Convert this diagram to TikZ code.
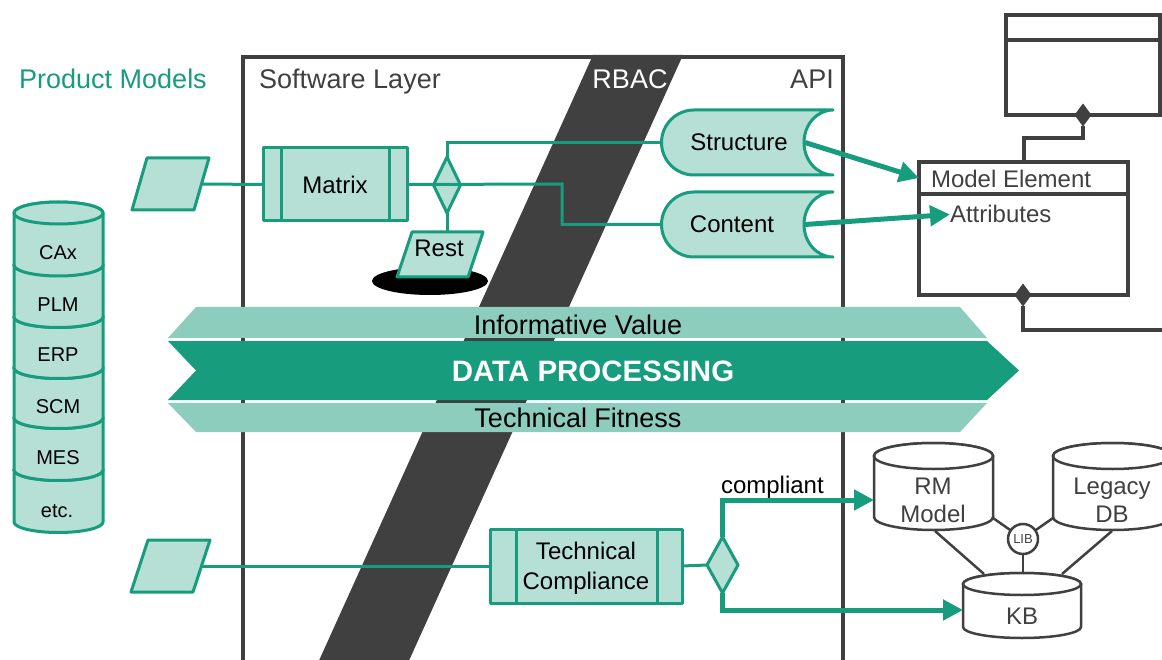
\documentclass[tikz,border=0pt]{standalone}
\usepackage{fontspec}
\setmainfont{Liberation Sans}
\usetikzlibrary{shapes.geometric,arrows.meta,calc}
\definecolor{fgreen}{HTML}{179C7D}
\definecolor{flight}{HTML}{B6E0D5}
\definecolor{fband}{HTML}{8CCDBE}
\definecolor{fgray}{HTML}{404040}

% cylinder: style, left x, right x, top-rim centre y, bottom-rim centre y, rim y-radius
\newcommand\dbcyl[6]{%
  \pgfmathsetmacro\cylrx{(#3-#2)/2}%
  \pgfmathsetmacro\cylcx{(#3+#2)/2}%
  \path[#1] (#2,#4) -- (#2,#5)
    arc[start angle=180,end angle=360,x radius=\cylrx pt,y radius=#6pt]
    -- (#3,#4)
    arc[start angle=0,end angle=180,x radius=\cylrx pt,y radius=#6pt] -- cycle;
  \path[#1] (\cylcx,#4) ellipse[x radius=\cylrx pt,y radius=#6pt];
}

\begin{document}
\begin{tikzpicture}[x=1pt,y=-1pt,
  every node/.style={inner sep=0pt,outer sep=0pt},
  head/.style={font=\fontsize{27}{30}\selectfont,anchor=base},
  lbl/.style={font=\fontsize{24}{28}\selectfont,align=center},
  stacklbl/.style={font=\fontsize{20}{24}\selectfont},
  gline/.style={draw=fgreen,line width=3pt},
  gshape/.style={fill=flight,draw=fgreen,line width=3pt,line join=round},
  procbox/.style={gshape,rectangle,font=\fontsize{24}{30}\selectfont,align=center},
  decision/.style={gshape,diamond,minimum width=27pt,minimum height=56pt},
  fatarrow/.style={draw=fgreen,line width=5pt,-{Triangle[length=20pt,width=20pt]}},
  uml/.style={draw=fgray,line width=4pt},
  umlbox/.style={uml,fill=white,rectangle},
  umldiam/.style={diamond,fill=fgray,minimum width=17pt,minimum height=23pt},
  store/.style={fill=white,draw=fgray,line width=2.5pt},
  sline/.style={draw=fgray,line width=2.5pt},
]
\useasboundingbox (0,0) rectangle (1162,660);
\fill[white] (0,0) rectangle (1162,660);

% ---------- software layer frame and RBAC strip ----------
\draw[uml] (243,665) -- (243,57) -- (843,57) -- (843,665);
\fill[fgray] (593,55) -- (683,55) -- (407,665) -- (317,665) -- cycle;

\node[head,text=fgreen] (pmtitle) at (113,89) {Product Models};
\node[head,text=fgray] (swtitle) at (350,89) {Software Layer};
\node[head,text=white] (rbactitle) at (630,89) {RBAC};
\node[head,text=fgray] (apititle) at (812,89) {API};

% ---------- product model stack ----------
\dbcyl{gshape}{14}{103}{470}{522}{10.5}
\dbcyl{gshape}{14}{103}{418}{470}{10.5}
\dbcyl{gshape}{14}{103}{368}{418}{10.5}
\dbcyl{gshape}{14}{103}{317}{368}{10.5}
\dbcyl{gshape}{14}{103}{265}{317}{10.5}
\dbcyl{gshape}{14}{103}{213}{265}{11}
\node[stacklbl] (cax) at (58,252.5) {CAx};
\node[stacklbl] (plm) at (58,304.5) {PLM};
\node[stacklbl] (erp) at (58,355) {ERP};
\node[stacklbl] (scm) at (58,406.5) {SCM};
\node[stacklbl] (mes) at (58,458) {MES};
\node[stacklbl,anchor=base] (etc) at (57,517.5) {etc.};

% ---------- upper flow: matrix, decision, outputs ----------
\path[gshape] (147,158) -- (209,158) -- (194,210) -- (132,210) -- cycle;
\coordinate (in1) at (201.5,184);

\node[procbox,minimum width=144pt,minimum height=73pt] (mat) at (335,184.5) {Matrix};
\draw[gline] ($(mat.north west)+(18,0)$) -- ($(mat.south west)+(18,0)$);
\draw[gline] ($(mat.north east)+(-18,0)$) -- ($(mat.south east)+(-18,0)$);

\node[decision] (dec1) at (447,185) {};

% Rest sink
\fill[black] (430,281) ellipse[x radius=58pt,y radius=14pt];
\path[gshape] (412,232) -- (483,232) -- (468,277) -- (397,277) -- cycle;
\node[lbl] (rest) at (439,248) {Rest};
\coordinate (resttop) at (447,232);

% Structure and Content stores
\path[gshape] (833,110) -- (694,110) arc[start angle=90,end angle=270,radius=32.5pt]
  -- (833,175) arc[start angle=270,end angle=90,x radius=29pt,y radius=32.5pt] -- cycle;
\node[lbl] (struct) at (739,142.5) {Structure};
\coordinate (structin) at (661,142.5);
\coordinate (structout) at (805,142.5);

\path[gshape] (833,192) -- (694,192) arc[start angle=90,end angle=270,radius=32.5pt]
  -- (833,257) arc[start angle=270,end angle=90,x radius=29pt,y radius=32.5pt] -- cycle;
\node[lbl] (content) at (732,224) {Content};
\coordinate (contentin) at (661,224.5);
\coordinate (contentout) at (805,224.5);

\coordinate (bend1) at (562,184);
\draw[gline] (in1) -- (mat.west);
\draw[gline,line join=miter] (mat.east) -- (bend1) |- (contentin);
\draw[gline,line join=miter] (dec1.north) |- (structin);
\draw[gline] (dec1.south) -- (resttop);

% ---------- model classes ----------
\node[umlbox,minimum width=154pt,minimum height=100pt,anchor=north west] (cls) at (1006,15) {};
\draw[uml] ($(cls.north west)+(0,25)$) -- ($(cls.north east)+(0,25)$);
\node[umlbox,minimum width=209pt,minimum height=32pt,anchor=north west] (mehead) at (919,162) {};
\node[umlbox,minimum width=209pt,minimum height=101pt,anchor=north west] (mebody) at (919,194) {};
\node[font=\fontsize{24}{28}\selectfont,text=fgray,anchor=base west] (metext) at (931,188) {Model Element};
\node[font=\fontsize{24}{28}\selectfont,text=fgray,anchor=base west] (attr) at (950,223) {Attributes};

\node[umldiam] (dtop) at (1083,115) {};
\node[umldiam] (dme) at (1023,295) {};
\coordinate (melink) at (1024,162);
\coordinate (umlout) at (1170,330);
\draw[uml,line join=miter] (dtop.south) -- ++(0,12) -| (melink);
\draw[uml,line join=miter] (dme.south) |- (umlout);

\draw[fatarrow] (structout) -- (mehead.west);
\draw[fatarrow] (contentout) -- (attr.west);

% ---------- data processing bands ----------
\fill[fband] (196,307) -- (960,307) -- (987,338) -- (168,338) -- cycle;
\fill[fgreen] (168,341) -- (987,341) -- (1019,370.5) -- (987,400) -- (168,400) -- (196,370.5) -- cycle;
\fill[fband] (168,403) -- (987,403) -- (960,432) -- (196,432) -- cycle;
\node[font=\fontsize{27}{30}\selectfont] (infoval) at (578,324.5) {Informative Value};
\node[font=\fontsize{29.5}{32}\selectfont\bfseries,text=white] (dataproc) at (593,371) {DATA PROCESSING};
\node[font=\fontsize{27}{30}\selectfont] (techfit) at (578,418) {Technical Fitness};

% ---------- lower flow: technical compliance ----------
\path[gshape] (148,540) -- (210,540) -- (193,592) -- (131,592) -- cycle;
\coordinate (in2) at (201.5,566);

\node[procbox,minimum width=192pt,minimum height=74pt] (tc) at (586,566) {};
\draw[gline] ($(tc.north west)+(26,0)$) -- ($(tc.south west)+(26,0)$);
\draw[gline] ($(tc.north east)+(-25,0)$) -- ($(tc.south east)+(-25,0)$);
\node[lbl,font=\fontsize{24}{30}\selectfont] (tctext) at (586,568) {Technical\\Compliance};

\node[decision,minimum width=31pt,minimum height=56pt] (dec2) at (722.5,565) {};

\draw[gline] (in2) -- (tc.west);
\draw[gline] (tc.east) -- (dec2.west);

% ---------- repositories ----------
\dbcyl{store}{874}{993}{456}{517}{13}
\dbcyl{store}{1053}{1172}{456}{517}{13}
\dbcyl{store}{963}{1081}{584}{627}{11}
\node[lbl,text=fgray] (rm) at (933,500.5) {RM\\Model};
\node[lbl,text=fgray] (legacy) at (1112,500) {Legacy\\DB};
\node[lbl,text=fgray] (kb) at (1022,616) {KB};
\coordinate (rmin) at (874,500);
\coordinate (kbin) at (963,610);

\node[circle,store,minimum size=30pt,font=\fontsize{13}{15}\selectfont,text=fgray] (lib) at (1023,539) {LIB};
\coordinate (rmright) at (993,518);
\coordinate (lgleft) at (1053,518);
\coordinate (rmbottom) at (935,531);
\coordinate (lgbottom) at (1112,531);
\coordinate (kbtop) at (1023,573);
\coordinate (kbtopl) at (984,574);
\coordinate (kbtopr) at (1062,574);
\draw[sline] (rmright) -- (lib);
\draw[sline] (lgleft) -- (lib);
\draw[sline] (lib) -- (kbtop);
\draw[sline] (rmbottom) -- (kbtopl);
\draw[sline] (lgbottom) -- (kbtopr);

\draw[fatarrow,line join=miter] (dec2.north) |- (rmin);
\draw[fatarrow,line join=miter] (dec2.south) |- (kbin);
\node[lbl,anchor=base west] (compl) at (721,493) {compliant};
\end{tikzpicture}
\end{document}
